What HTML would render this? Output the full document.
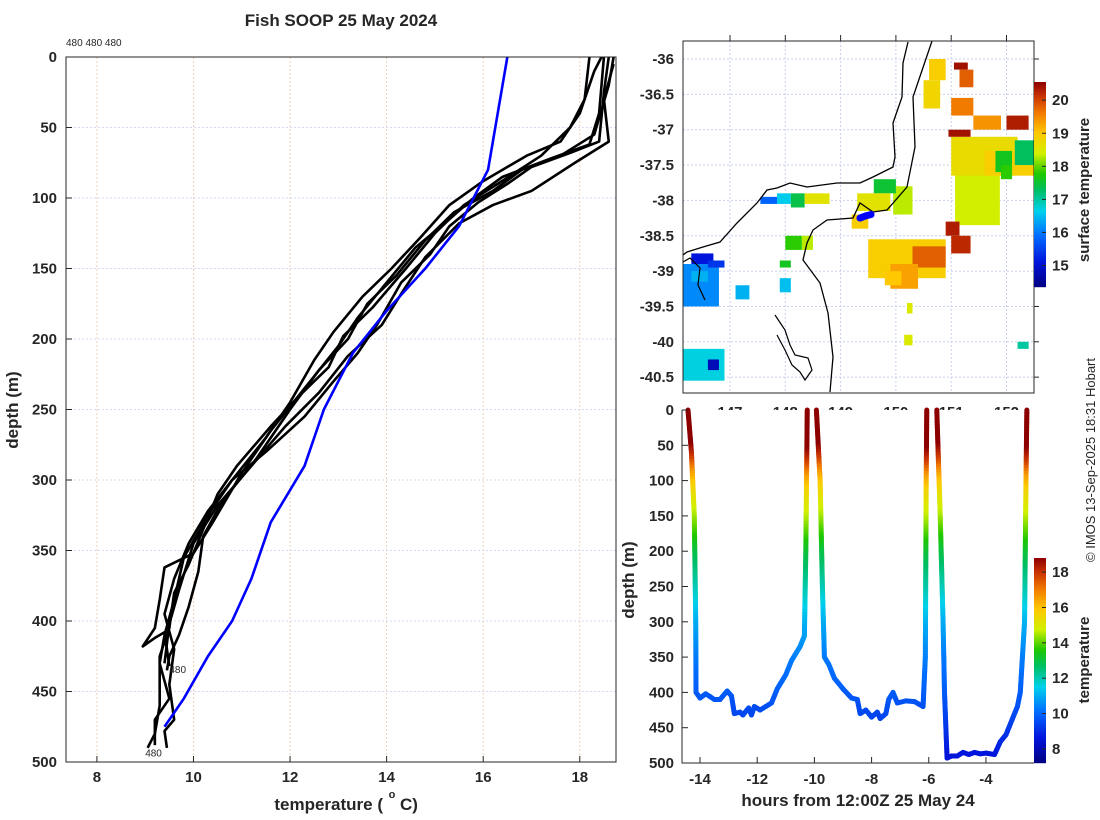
<!DOCTYPE html>
<html><head><meta charset="utf-8"><style>
body{margin:0;background:#fff}
svg{display:block;font-family:"Liberation Sans","DejaVu Sans",sans-serif}
.tk{font-size:15px;font-weight:bold;fill:#262626}
.lb{font-size:17px;font-weight:bold;fill:#262626}
</style></head><body>
<svg id="fig" width="1100" height="820" viewBox="0 0 1100 820">
<defs><clipPath id="mapclip"><rect x="683" y="41" width="351" height="352"/></clipPath></defs>
</svg>
<script>
// ---- Left profile plot data ----
const blueTemp=[16.5,16.4,16.2,16.1,15.5,14.8,14.0,13.3,12.7,12.3,11.6,11.2,10.8,10.3,9.8,9.4];
const blueDepth=[0,20,60,80,120,150,180,210,250,290,330,370,400,425,455,475];
const profA=[[18.5,0],[18.4,40],[18.2,62],[17.4,72],[16.4,85],[15.8,100],[15.2,118],[14.6,135],[14.0,160],[13.4,185],[13.0,205],[12.3,235],[11.6,265],[11.0,295],[10.4,330],[10.0,352],[9.4,362],[9.3,385],[9.2,405],[8.95,418],[9.2,412],[9.4,408],[9.5,432]];
const profB=[[18.7,0],[18.6,20],[18.3,55],[17.6,70],[16.8,80],[16.2,95],[15.4,110],[14.8,130],[14.2,155],[13.6,175],[13.2,200],[12.6,222],[12.0,250],[11.3,285],[10.6,315],[10.2,340],[10.1,365],[9.9,390],[9.7,410],[9.5,425],[9.45,435]];
const profC=[[18.2,0],[18.1,30],[17.8,50],[17.2,70],[16.3,90],[15.6,105],[15.0,125],[14.4,150],[13.7,178],[13.1,198],[12.8,220],[12.2,240],[11.6,262],[10.9,290],[10.5,310],[10.2,335],[9.9,360],[9.6,380],[9.5,405],[9.3,425],[9.3,460],[9.2,480],[9.05,490]];
const profD=[[18.6,0],[18.5,25],[18.4,60],[17.8,68],[17.0,78],[16.5,90],[15.9,103],[15.3,120],[14.9,140],[14.3,160],[13.8,190],[13.4,210],[12.9,230],[12.3,255],[11.5,280],[10.8,300],[10.3,322],[9.9,345],[9.6,370],[9.4,395],[9.6,420],[9.5,445],[9.6,470],[9.4,478],[9.45,490]];
const profE=[[18.45,0],[18.3,10],[18.0,40],[17.6,60],[16.9,70],[16.0,88],[15.3,105],[14.7,128],[14.1,150],[13.5,170],[12.9,195],[12.5,215],[12.0,245],[11.5,270],[10.8,300],[10.3,325],[9.8,355],[9.6,385],[9.4,410],[9.3,430],[9.5,455],[9.2,470],[9.2,488]];
const profF=[[18.7,5],[18.5,30],[18.6,60],[17.9,75],[17.0,95],[16.2,105],[15.5,118],[14.8,142],[14.3,168],[13.9,190],[13.2,212],[12.6,238],[11.9,262],[11.2,290],[10.5,318],[10.0,345],[9.7,378],[9.5,402],[9.4,430]];
const tempTicks=[8,10,12,14,16,18];
const depthTicks=[0,50,100,150,200,250,300,350,400,450,500];
// ---- Map data: [lon0,lat0,lon1,lat1,temp] ----
const sstPatches=[
[151.07,-37.15,151.88,-38.35,18.4],[151.0,-37.1,152.2,-37.65,18.7],[151.6,-37.3,152.5,-37.65,18.9],[151.8,-37.3,152.1,-37.6,17.6],[152.15,-37.15,152.5,-37.5,17.3],
[151.9,-37.5,152.1,-37.7,17.8],[150.9,-38.3,151.15,-38.5,20.3],[151.0,-38.5,151.35,-38.75,20.2],
[149.5,-38.55,150.9,-39.1,18.9],[150.3,-38.65,150.9,-38.95,19.8],[149.9,-38.9,150.4,-39.25,19.3],[149.8,-39.0,150.1,-39.2,19.0],
[151.05,-36.05,151.3,-36.15,20.4],[151.15,-36.15,151.4,-36.4,19.8],[151.0,-36.55,151.4,-36.8,19.6],[151.4,-36.8,151.9,-37.0,19.4],
[152.0,-36.8,152.4,-37.0,20.3],[150.95,-37.0,151.35,-37.1,20.4],[150.6,-36.0,150.9,-36.3,18.9],[150.5,-36.3,150.8,-36.7,18.8],
[149.95,-37.8,150.3,-38.2,18.3],[149.6,-37.7,150.0,-37.9,17.5],[149.3,-37.9,149.9,-38.15,18.6],[149.2,-38.2,149.5,-38.4,18.9],
[147.55,-37.95,147.85,-38.05,15.8],[147.85,-37.9,148.1,-38.05,16.6],[148.1,-37.9,148.35,-38.1,17.4],[148.35,-37.9,148.8,-38.05,18.6],
[146.15,-38.9,146.8,-39.5,16.1],[146.3,-38.75,146.7,-38.9,15.1],[146.6,-38.85,146.9,-38.95,15.4],[146.3,-39.0,146.6,-39.15,16.4],
[146.15,-40.1,146.9,-40.55,16.7],[146.6,-40.25,146.8,-40.4,14.8],[147.1,-39.2,147.35,-39.4,16.4],
[148.0,-38.5,148.3,-38.7,17.8],[148.3,-38.5,148.5,-38.7,18.3],[147.9,-38.85,148.1,-38.95,17.6],[147.9,-39.1,148.1,-39.3,16.5],
[152.2,-40.75,152.5,-40.85,18.2],[152.2,-40.0,152.4,-40.1,17.0],[150.15,-39.9,150.3,-40.05,18.5],[150.2,-39.45,150.3,-39.6,18.5]];
const latTicks=[-36,-36.5,-37,-37.5,-38,-38.5,-39,-39.5,-40,-40.5];
const lonTicks=[147,148,149,150,151,152];
const sstTicks=[15,16,17,18,19,20];
const shipLon=[149.35,149.45,149.55];
const shipLat=[-38.25,-38.22,-38.2];
// ---- Track data ----
const trackHours=[-14.42,-14.3,-14.2,-14.15,-14.14,-14.0,-13.8,-13.5,-13.3,-13.05,-12.9,-12.8,-12.6,-12.5,-12.3,-12.2,-12.1,-11.9,-11.7,-11.5,-11.3,-11.0,-10.8,-10.5,-10.35,-10.3,-10.25,
 null,-9.93,-9.8,-9.72,-9.65,-9.5,-9.3,-9.0,-8.7,-8.5,-8.4,-8.2,-8.0,-7.8,-7.7,-7.5,-7.4,-7.25,-7.1,-6.8,-6.5,-6.2,-6.12,-6.09,-6.07,
 null,-5.72,-5.6,-5.5,-5.45,-5.36,-5.2,-5.0,-4.8,-4.6,-4.4,-4.2,-4.0,-3.7,-3.5,-3.3,-3.1,-2.9,-2.8,-2.65,-2.6,-2.57];
const trackDepth=[0,60,150,300,400,408,402,410,410,398,405,430,428,432,422,432,420,425,420,415,395,375,355,335,320,200,0,
 null,0,100,250,350,360,380,395,408,410,430,425,435,428,437,430,410,400,415,412,413,420,350,100,0,
 null,0,150,300,400,493,490,490,485,488,485,487,486,488,470,460,440,420,400,300,100,0];
const profDepth=[0,50,70,90,110,150,200,250,300,350,400,450,500];
const profTemp=[19.2,18.8,17.8,16.5,15.6,14.5,13.0,12.0,11.0,10.3,9.8,9.2,8.4];
const trkTicksX=[-14,-12,-10,-8,-6,-4];
const trkCbTicks=[8,10,12,14,16,18];

const NS='http://www.w3.org/2000/svg';
const svg=document.getElementById('fig');
function mk(tag,attrs,parent,name,inter){const e=document.createElementNS(NS,tag);for(const k in attrs)e.setAttribute(k,attrs[k]);(parent||svg).appendChild(e);
 
 
 return e;}
function txt(x,y,s,cls,anchor,parent,name,extra){const t=mk('text',Object.assign({x:x,y:y,class:cls||'tk','text-anchor':anchor||'middle'},extra||{}),parent,name);t.textContent=s;return t;}
const stops=[[0,[0,0,130]],[0.12,[0,20,220]],[0.25,[0,110,255]],[0.37,[0,210,235]],[0.47,[0,190,100]],[0.55,[30,200,0]],[0.65,[210,240,0]],[0.75,[255,200,0]],[0.85,[240,120,0]],[0.93,[200,50,0]],[1,[140,0,0]]];
function cmap(f){f=Math.max(0,Math.min(1,f));for(let i=1;i<stops.length;i++){if(f<=stops[i][0]){const a=stops[i-1],b=stops[i];const u=(f-a[0])/(b[0]-a[0]);const c=a[1].map((v,j)=>Math.round(v+(b[1][j]-v)*u));return `rgb(${c})`;}}return 'rgb(140,0,0)';}

txt(341,26,'Fish SOOP 25 May 2024','lb','middle',null,'chart-title');
txt(66,46,'480 480 480','tk','start',null,'profile-count-label',{style:'font-size:10px;font-weight:normal'});

// ===== Left plot =====
const L={x0:66,x1:616,y0:57,y1:762,tmin:7.36,tmax:18.75};
const lx=t=>L.x0+(t-L.tmin)/(L.tmax-L.tmin)*(L.x1-L.x0);
const ly=d=>L.y0+d/500*(L.y1-L.y0);
const gL=mk('g',{},svg,'temperature-profile-plot');
tempTicks.forEach(t=>{mk('line',{x1:lx(t),x2:lx(t),y1:L.y0,y2:L.y1,stroke:'#e8c8a8','stroke-dasharray':'2,2','stroke-width':0.8},gL,'x-gridline');
 mk('line',{x1:lx(t),x2:lx(t),y1:L.y1,y2:L.y1-6,stroke:'#262626'},gL,'x-tick');
 txt(lx(t),782,String(t),'tk','middle',gL,'x-tick-label');});
depthTicks.forEach(d=>{mk('line',{x1:L.x0,x2:L.x1,y1:ly(d),y2:ly(d),stroke:'#c8d0f0','stroke-dasharray':'2,2','stroke-width':0.8},gL,'y-gridline');
 mk('line',{x1:L.x0,x2:L.x0+6,y1:ly(d),y2:ly(d),stroke:'#262626'},gL,'y-tick');
 txt(57,ly(d)+5,String(d),'tk','end',gL,'y-tick-label');});
[profA,profB,profC,profD,profE,profF].forEach((p,i)=>{mk('polyline',{points:p.map(q=>lx(q[0])+','+ly(q[1])).join(' '),fill:'none',stroke:'#000','stroke-width':2.6,'stroke-linejoin':'round'},gL,'profile-line-'+(i+1));});
mk('polyline',{points:blueTemp.map((t,i)=>lx(t)+','+ly(blueDepth[i])).join(' '),fill:'none',stroke:'#0000ff','stroke-width':2.6},gL,'mean-profile-line');
txt(lx(9.5),ly(437),'480','tk','start',gL,'profile-end-label',{style:'font-size:10px;font-weight:normal'});
txt(lx(9.0),ly(496),'480','tk','start',gL,'profile-end-label',{style:'font-size:10px;font-weight:normal'});
mk('rect',{x:L.x0,y:L.y0,width:L.x1-L.x0,height:L.y1-L.y0,fill:'none',stroke:'#262626'},gL,'plot-frame');
txt(383,810,'temperature (','lb','end',gL,'x-axis-title');
txt(392,798,'o','tk','middle',gL,'degree-symbol',{style:'font-size:11px'});
txt(400,810,' C)','lb','start',gL,'x-axis-title-unit');
txt(0,0,'depth (m)','lb','middle',gL,'y-axis-title',{transform:'translate(18,410) rotate(-90)'});

// ===== Map =====
const M={x0:683,x1:1034,y0:41,y1:393};
const mx=lon=>683+(lon-146.15)*55.3;
const my=lat=>59+(-36-lat)*70.7;
const gM=mk('g',{},svg,'sst-map');
lonTicks.forEach(l=>{mk('line',{x1:mx(l),x2:mx(l),y1:M.y0,y2:M.y1,stroke:'#c8d0f0','stroke-dasharray':'2,2'},gM,'lon-gridline');
 mk('line',{x1:mx(l),x2:mx(l),y1:M.y0,y2:M.y0-6,stroke:'#262626'},gM,'lon-tick');
 txt(mx(l),417,String(l),'tk','middle',gM,'lon-tick-label');});
latTicks.forEach(l=>{mk('line',{x1:M.x0,x2:M.x1,y1:my(l),y2:my(l),stroke:'#c8d0f0','stroke-dasharray':'2,2'},gM,'lat-gridline');
 mk('line',{x1:M.x1,x2:M.x1+5,y1:my(l),y2:my(l),stroke:'#262626'},gM,'lat-tick');
 txt(674,my(l)+5,String(l),'tk','end',gM,'lat-tick-label');});
const sMin=14.35,sMax=20.55;
const gMd=mk('g',{'clip-path':'url(#mapclip)'},gM,'map-data');
sstPatches.forEach(p=>{const x=mx(p[0]),y=my(p[1]);mk('rect',{x:x,y:y,width:mx(p[2])-x,height:my(p[3])-y,fill:cmap((p[4]-sMin)/(sMax-sMin))},gMd,'sst-patch');});
const coast='908,42 903,63 902,97 893,123 895,157 893,167 873,177 860,183 837,183 807,187 790,183 777,188 767,190 757,203 737,223 720,242 703,247 687,252 683,255';
mk('polyline',{points:coast,fill:'none',stroke:'#000','stroke-width':1.3},gMd,'coastline');
mk('polyline',{points:'932,41 913,97 915,147 907,187 887,210 873,212 860,203 853,218 827,220 813,230 807,243 803,260 820,283 828,313 833,357 830,392',fill:'none',stroke:'#000','stroke-width':1.3},gMd,'boundary-line');
mk('polyline',{points:'775,315 785,330 790,345 795,355 808,358 812,370 805,380 800,372 792,365 785,350 777,335',fill:'none',stroke:'#000','stroke-width':1.2},gMd,'flinders-island');
mk('polyline',{points:'683,262 690,258 700,268 698,285 705,300',fill:'none',stroke:'#000','stroke-width':1.2},gMd,'wilsons-prom');
mk('polyline',{points:shipLon.map((l,i)=>mx(l)+','+my(shipLat[i])).join(' '),fill:'none',stroke:'#0000ff','stroke-width':7,'stroke-linecap':'round'},gMd,'ship-track');
mk('rect',{x:M.x0,y:M.y0,width:M.x1-M.x0,height:M.y1-M.y0,fill:'none',stroke:'#262626'},gM,'map-frame');
const cb1=mk('g',{},svg,'sst-colorbar');
for(let i=0;i<205;i++){mk('rect',{x:1034,y:287-i-1,width:12,height:1.2,fill:cmap(i/205)},cb1,'colorbar-cell');}
sstTicks.forEach(v=>{const y=287-(v-sMin)/(sMax-sMin)*205;mk('line',{x1:1042,x2:1046,y1:y,y2:y,stroke:'#262626'},cb1,'colorbar-tick');txt(1052,y+5,String(v),'tk','start',cb1,'colorbar-tick-label');});
txt(0,0,'surface temperature','tk','middle',cb1,'colorbar-title',{transform:'translate(1089,190) rotate(-90)'});

// ===== Track plot =====
const T={x0:682,x1:1034,y0:410,y1:763,hmin:-14.63,hmax:-2.32};
const tx=h=>T.x0+(h-T.hmin)/(T.hmax-T.hmin)*(T.x1-T.x0);
const ty=d=>T.y0+d/500*(T.y1-T.y0);
const gT=mk('g',{},svg,'depth-track-plot');
mk('rect',{x:T.x0,y:T.y0,width:T.x1-T.x0,height:T.y1-T.y0,fill:'#fff'},gT,'plot-background');
const cMin=7.2,cMax=18.8;
function tempAt(d){for(let i=1;i<profDepth.length;i++){if(d<=profDepth[i]){const u=(d-profDepth[i-1])/(profDepth[i]-profDepth[i-1]);return profTemp[i-1]+u*(profTemp[i]-profTemp[i-1]);}}return profTemp[profTemp.length-1];}
for(let i=1;i<trackHours.length;i++){const h0=trackHours[i-1],h1=trackHours[i];if(h0===null||h1===null)continue;
 const d0=trackDepth[i-1],d1=trackDepth[i];const n=Math.max(1,Math.ceil(Math.abs(ty(d1)-ty(d0))/3));
 for(let k=0;k<n;k++){const a=k/n,b=(k+1)/n;const dm=d0+(d1-d0)*(a+b)/2;
  mk('line',{x1:tx(h0+(h1-h0)*a),y1:ty(d0+(d1-d0)*a),x2:tx(h0+(h1-h0)*b),y2:ty(d0+(d1-d0)*b),stroke:cmap((tempAt(dm)-cMin)/(cMax-cMin)),'stroke-width':5,'stroke-linecap':'round'},gT,'track-segment');}}
trkTicksX.forEach(h=>{mk('line',{x1:tx(h),x2:tx(h),y1:T.y1,y2:T.y1-6,stroke:'#262626'},gT,'x-tick');txt(tx(h),784,String(h),'tk','middle',gT,'x-tick-label');});
depthTicks.forEach(d=>{mk('line',{x1:T.x0,x2:T.x0+6,y1:ty(d),y2:ty(d),stroke:'#262626'},gT,'y-tick');txt(674,ty(d)+5,String(d),'tk','end',gT,'y-tick-label');});
mk('polyline',{points:`${T.x0},${T.y0} ${T.x0},${T.y1} ${T.x1},${T.y1}`,fill:'none',stroke:'#262626'},gT,'plot-axes');
txt(858,806,'hours from 12:00Z 25 May 24','lb','middle',gT,'x-axis-title');
txt(0,0,'depth (m)','lb','middle',gT,'y-axis-title',{transform:'translate(634,580) rotate(-90)'});
const cb2=mk('g',{},svg,'temperature-colorbar');
for(let i=0;i<205;i++){mk('rect',{x:1034,y:763-i-1,width:12,height:1.2,fill:cmap(i/205)},cb2,'colorbar-cell');}
trkCbTicks.forEach(v=>{const y=763-(v-cMin)/(cMax-cMin)*205;mk('line',{x1:1042,x2:1046,y1:y,y2:y,stroke:'#262626'},cb2,'colorbar-tick');txt(1052,y+5,String(v),'tk','start',cb2,'colorbar-tick-label');});
txt(0,0,'temperature','tk','middle',cb2,'colorbar-title',{transform:'translate(1089,660) rotate(-90)'});
txt(0,0,'© IMOS 13-Sep-2025 18:31 Hobart','tk','middle',svg,'copyright-note',{transform:'translate(1095,460) rotate(-90)',style:'font-size:13px;font-weight:normal'});
</script>
</body></html>
